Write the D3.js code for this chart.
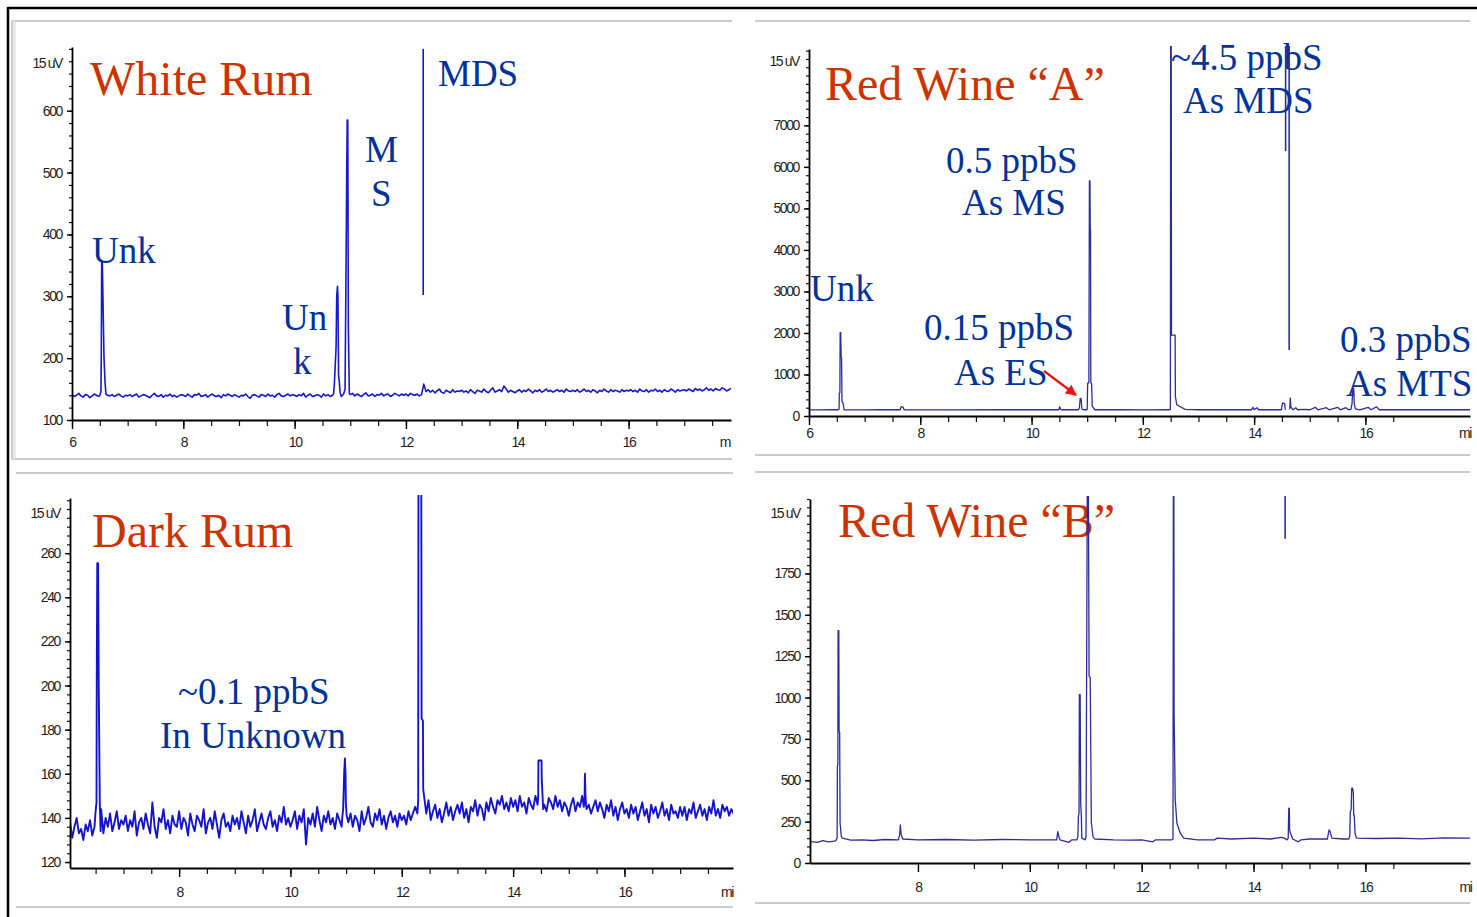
<!DOCTYPE html>
<html>
<head>
<meta charset="utf-8">
<script src="https://cdn.jsdelivr.net/npm/d3@7"></script>
<style>
  html, body { margin: 0; padding: 0; background: #fff; }
  svg { display: block; }
  .tick text, .unit, .end-label {
    font-family: "Liberation Sans", Arial, sans-serif;
    font-size: 14px; letter-spacing: -1.4px; fill: #1e1e1e;
  }
  .title { font-family: "Liberation Serif", "Times New Roman", serif; font-size: 48px; fill: #cc3300; }
  .note  { font-family: "Liberation Serif", "Times New Roman", serif; font-size: 37px; fill: #003399; }
</style>
</head>
<body>
<svg id="chart" width="1477" height="917"></svg>
<script>
// ---------------------------------------------------------------
// Sulfur chromatograms (signal in uV vs. retention time in min)
// ---------------------------------------------------------------

// Noisy detector baselines, sampled every 0.04 min
const noiseStep = 0.04;
const whiteRumNoiseStart = 6.00;
const whiteRumNoise = [
  141,138,140,143,139,137,141,140,136,139,142,140,138,141,143,137,140,139,141,138,140,142,139,137,140,
  139,141,138,140,142,137,139,141,140,138,136,140,143,139,138,141,137,140,139,142,138,140,137,139,141,
  140,138,142,139,137,141,140,143,138,139,141,137,140,142,139,138,140,136,141,139,142,140,138,141,139,
  137,140,139,142,138,135,140,141,139,137,141,140,138,142,139,140,137,141,143,139,138,140,142,139,141,
  140,138,141,139,143,137,140,142,138,139,141,140,137,142,139,141,138,140,143,139,141,138,142,140,139,
  141,143,139,142,140,138,141,144,139,140,142,138,141,140,143,139,141,142,138,140,143,141,139,142,140,
  142,139,143,141,140,142,139,141,158,146,149,145,148,144,147,150,145,143,148,146,144,149,145,147,146,
  148,145,147,144,149,146,143,148,147,145,150,146,144,148,152,145,147,149,146,155,150,145,148,146,144,
  147,149,145,148,146,150,147,144,148,146,149,145,147,150,146,148,145,147,149,146,148,145,150,147,146,
  148,146,149,145,147,150,146,148,145,149,147,144,148,146,150,147,145,149,146,148,147,145,149,146,148,
  147,149,146,148,145,150,147,146,149,145,148,147,150,146,148,145,149,147,146,150,148,145,149,147,148,
  149,147,150,148,146,151,148,150,147,149,152,148,150,147,151,149,148,152,150,147,149,151,148,150,149
];

const darkRumNoiseStart = 6.04;
const darkRumNoise = [
  138,131,136,140,133,135,130,137,134,139,132,136,135,141,144,133,140,136,142,134,138,143,135,139,137,
  141,134,139,136,143,132,138,140,135,142,137,133,147,136,131,140,138,144,135,139,133,141,137,136,143,
  135,140,138,132,142,137,134,141,139,136,144,133,138,140,135,143,137,131,139,142,136,138,134,141,137,
  140,135,143,138,133,141,136,139,144,134,138,142,137,135,140,143,136,139,134,141,138,145,137,140,136,
  139,143,135,141,138,144,128,140,137,142,136,145,139,134,141,138,143,137,140,135,142,139,136,144,140,
  138,142,136,141,139,134,143,137,140,145,138,136,142,139,144,137,141,135,140,143,138,141,136,142,139,
  141,137,143,139,142,145,140,138,141,146,142,148,139,143,146,140,144,138,142,147,141,145,139,143,146,
  142,147,140,144,138,145,143,148,141,146,144,139,147,143,149,145,142,148,146,150,144,147,143,149,145,
  148,143,150,145,147,142,149,146,144,150,147,145,151,146,143,149,147,144,150,145,148,143,147,145,141,
  146,149,143,147,145,150,148,144,146,142,145,148,143,147,144,140,146,143,148,141,145,139,144,147,142,
  144,140,146,142,145,139,143,147,141,144,138,146,142,145,140,143,147,141,144,139,146,142,143,140,145,
  141,145,139,144,142,147,140,143,146,141,144,139,145,142,148,141,144,140,146,143,145,141,144,142,146
];

// Peaks [time, signal] laid over the noisy baselines
const whiteRumPeaks = [
  [[6.50,140],[6.52,146],[6.527,210],[6.533,354],[6.545,354],[6.563,263],[6.575,200],[6.593,162],[6.61,142]],
  [[10.70,142],[10.713,157],[10.745,219],[10.756,300],[10.77,316],[10.778,300],[10.79,170],[10.80,165],[10.816,145]],
  [[10.89,145],[10.906,150],[10.93,420],[10.936,505],[10.945,585],[10.955,585],[10.965,250],[10.983,143],[11.0,141]]
];
const darkRumPeaks = [
  [[6.50,143],[6.516,147],[6.521,206],[6.53,255.5],[6.545,255.5],[6.557,198],[6.575,147],[6.59,134]],
  [[10.93,140],[10.947,144],[10.965,160],[10.978,167],[10.99,160],[10.995,147],[11.01,141]],
  [[12.28,142],[12.295,148],[12.30,300],[12.35,300],[12.356,185],[12.38,184],[12.385,153],[12.40,150]],
  [[14.44,146],[14.451,150],[14.455,166],[14.51,166],[14.515,157],[14.54,144]],
  [[15.27,145],[15.285,150],[15.29,160],[15.30,150],[15.31,146]]
];

// Wine traces [time, signal]; null marks a break in the recorded trace
const redWineATrace = [
  [6.0,150],[6.2,146],[6.4,150],[6.52,150],[6.54,160],[6.545,550],[6.555,560],[6.56,2010],[6.57,2010],
  [6.578,1430],[6.585,1400],[6.593,345],[6.615,300],[6.63,150],
  [7.0,148],[7.3,150],[7.64,150],[7.655,225],[7.69,215],[7.71,150],
  [8.5,148],[9.5,150],[10.49,150],[10.505,225],[10.52,160],[10.55,150],
  [10.84,150],[10.86,200],[10.875,425],[10.89,420],[10.905,170],[10.93,150],
  [10.99,150],[11.0,160],[11.008,790],[11.03,800],[11.04,5660],[11.05,5660],[11.055,4480],[11.06,4480],
  [11.065,800],[11.08,780],[11.09,230],[11.14,150],
  [11.6,150],[12.0,148],[12.48,150],[12.495,160],[12.50,9500],[12.51,9500],[12.515,1950],[12.58,1950],
  [12.585,470],[12.61,270],[12.76,160],
  [13.0,150],[13.5,150],[13.95,150],[13.98,210],[14.0,150],[14.05,200],[14.08,150],[14.49,150],
  [14.51,313],[14.55,300],[14.56,150],
  [14.60,null],
  [14.64,160],[14.65,434],[14.66,220],[14.70,150],[14.75,200],[14.78,150],[14.9,160],[15.0,150],
  [15.1,210],[15.15,150],[15.3,200],[15.35,150],[15.5,210],[15.55,150],[15.65,200],[15.70,150],
  [15.74,160],[15.76,300],[15.775,670],[15.79,660],[15.80,300],[15.82,170],
  [15.9,150],[16.05,210],[16.1,150],[16.2,220],[16.25,150],[17.0,150],[17.88,150]
];
const redWineBTrace = [
  [6.07,130],[6.2,125],[6.3,135],[6.4,128],[6.5,132],[6.53,135],[6.555,150],[6.56,580],[6.568,600],
  [6.572,1404],[6.585,1404],[6.59,795],[6.60,790],[6.608,240],[6.63,160],[6.65,150],
  [6.8,138],[7.0,140],[7.2,136],[7.4,142],[7.65,140],[7.675,175],[7.685,230],[7.70,170],[7.73,145],
  [8.0,140],[8.5,142],[9.0,138],[9.5,142],[10.0,140],[10.48,140],[10.50,190],[10.52,160],[10.54,140],
  [10.7,125],[10.75,140],
  [10.84,140],[10.86,160],[10.868,280],[10.88,300],[10.886,1017],[10.90,1017],[10.91,360],[10.92,300],
  [10.93,150],[10.99,140],[11.005,160],[11.03,2500],[11.045,2500],[11.06,1130],[11.08,1120],[11.10,242],
  [11.13,160],[11.16,145],
  [11.5,140],[11.8,138],[12.0,140],[12.2,128],[12.25,140],[12.54,140],[12.56,145],[12.567,2500],
  [12.575,2500],[12.58,900],[12.60,380],[12.63,240],[12.69,180],[12.75,150],
  [13.0,140],[13.3,140],[13.35,150],[13.6,145],[14.0,150],[14.3,145],[14.5,155],[14.55,150],
  [14.60,140],[14.62,150],[14.63,332],[14.64,330],[14.645,200],[14.66,180],[14.70,145],[14.8,128],
  [14.85,140],[15.0,145],
  [15.32,145],[15.35,200],[15.37,190],[15.40,150],[15.6,145],
  [15.70,145],[15.72,160],[15.73,310],[15.745,320],[15.755,452],[15.77,452],[15.785,423],[15.79,290],
  [15.80,290],[15.815,180],[15.84,150],
  [16.2,148],[16.6,150],[17.0,146],[17.4,152],[17.87,150]
];

// Off-scale peak strokes [time, lower signal, upper signal]
const whiteRumMarkers = [[12.31, 302, 700]];
const redWineAMarkers = [[14.63, 1590, 9500], [14.566, 6380, 9500]];
const redWineBMarkers = [[14.565, 1960, 2500]];

// Axis tick values
const whiteRumYTicks = [100, 200, 300, 400, 500, 600];
const redWineAYTicks = [0, 1000, 2000, 3000, 4000, 5000, 6000, 7000];
const darkRumYTicks  = [120, 140, 160, 180, 200, 220, 240, 260];
const redWineBYTicks = [0, 250, 500, 750, 1000, 1250, 1500, 1750];
const timeTicksFrom6 = [6, 8, 10, 12, 14, 16];
const timeTicksFrom8 = [8, 10, 12, 14, 16];
const unitLabel = "15 uV";

// ---------------------------------------------------------------
function buildTrace(start, step, noise, peaks) {
  const pts = noise
    .map((v, i) => [start + i * step, v])
    .filter(([t]) => !peaks.some(pk => t >= pk[0][0] && t <= pk[pk.length - 1][0]));
  peaks.forEach(pk => pts.push(...pk));
  return pts.sort((a, b) => a[0] - b[0]);
}

const panels = [
  {
    frame: { x0: 12, x1: 732, y0: 21, y1: 459, leftEdge: true },
    left: 72, right: 731, top: 47, bottom: 420,
    xDomain: [6, 17.84], yDomain: [100, 703],
    yTicks: whiteRumYTicks, yMinor: d3.range(100, 701, 20),
    xTicks: timeTicksFrom6, xMinor: d3.range(6, 17.51, 0.5),
    xPad: 8, endLabel: "m", endT: 17.73, unitY: 63,
    trace: buildTrace(whiteRumNoiseStart, noiseStep, whiteRumNoise, whiteRumPeaks),
    markers: whiteRumMarkers, color: "#1717cc", width: 1.6,
    notes: [
      { text: "White Rum", cls: "title", x: 90, y: 95 },
      { text: "MDS", cls: "note", x: 438, y: 86 },
      { text: "M", cls: "note", x: 365, y: 162 },
      { text: "S", cls: "note", x: 371, y: 206 },
      { text: "Unk", cls: "note", x: 92, y: 263 },
      { text: "Un", cls: "note", x: 282, y: 330 },
      { text: "k", cls: "note", x: 293, y: 374 }
    ]
  },
  {
    frame: { x0: 755, x1: 1470, y0: 21, y1: 455 },
    left: 809, right: 1470, top: 49, bottom: 416,
    xDomain: [6, 17.88], yDomain: [0, 8840],
    yTicks: redWineAYTicks, yMinor: d3.range(0, 8801, 200),
    xTicks: timeTicksFrom6, xMinor: d3.range(6, 16.51, 0.5),
    xPad: 3, endLabel: "mi", endT: 17.79, unitY: 61,
    trace: redWineATrace,
    markers: redWineAMarkers, color: "#2d2d9a", width: 1.3,
    notes: [
      { text: "Red Wine “A”", cls: "title", x: 825, y: 100 },
      { text: "0.5 ppbS", cls: "note", x: 946, y: 173 },
      { text: "As MS", cls: "note", x: 962, y: 215 },
      { text: "Unk", cls: "note", x: 810, y: 301 },
      { text: "0.15 ppbS", cls: "note", x: 924, y: 340 },
      { text: "As ES", cls: "note", x: 954, y: 385 },
      { text: "~4.5 ppbS", cls: "note", x: 1171, y: 70 },
      { text: "As MDS", cls: "note", x: 1183, y: 113 },
      { text: "0.3 ppbS", cls: "note", x: 1340, y: 352 },
      { text: "As MTS", cls: "note", x: 1346, y: 396 }
    ],
    arrow: { x1: 1044, y1: 371, x2: 1076, y2: 395 }
  },
  {
    frame: { x0: 16, x1: 733, y0: 473, y1: 907 },
    left: 70, right: 733, top: 498, bottom: 868,
    xDomain: [6.04, 17.95], yDomain: [117.3, 285],
    yTicks: darkRumYTicks, yMinor: d3.range(120, 285, 4),
    xTicks: timeTicksFrom8, xMinor: d3.range(6.5, 17.51, 0.5),
    xPad: 10, endLabel: "mi", endT: 17.84, unitY: 513,
    trace: buildTrace(darkRumNoiseStart, noiseStep, darkRumNoise, darkRumPeaks),
    markers: [], color: "#1414cc", width: 1.9,
    notes: [
      { text: "Dark Rum", cls: "title", x: 92, y: 547 },
      { text: "~0.1 ppbS", cls: "note", x: 178, y: 704 },
      { text: "In Unknown", cls: "note", x: 160, y: 748 }
    ]
  },
  {
    frame: { x0: 755, x1: 1470, y0: 472, y1: 903 },
    left: 810, right: 1470, top: 499, bottom: 863,
    xDomain: [6.07, 17.87], yDomain: [0, 2200],
    yTicks: redWineBYTicks, yMinor: d3.range(0, 2201, 50),
    xTicks: timeTicksFrom8, xMinor: d3.range(9, 16.51, 0.5),
    xPad: 10, endLabel: "mi", endT: 17.79, unitY: 513,
    trace: redWineBTrace,
    markers: redWineBMarkers, color: "#2d2d9a", width: 1.3,
    notes: [
      { text: "Red Wine “B”", cls: "title", x: 838, y: 537 }
    ]
  }
];

const svg = d3.select("#chart");

// outer slide frame
svg.append("line").attr("x1", 7.5).attr("x2", 1477).attr("y1", 8).attr("y2", 8)
  .attr("stroke", "#000").attr("stroke-width", 2.5);
svg.append("line").attr("x1", 8).attr("x2", 8).attr("y1", 7).attr("y2", 917)
  .attr("stroke", "#000").attr("stroke-width", 2.5);

svg.append("defs").append("marker")
  .attr("id", "arrowhead").attr("viewBox", "0 0 10 10")
  .attr("refX", 9).attr("refY", 5).attr("markerWidth", 5).attr("markerHeight", 5)
  .attr("orient", "auto")
  .append("path").attr("d", "M0,0 L10,5 L0,10 Z").attr("fill", "#ee1111");

panels.forEach((p, i) => {
  const g = svg.append("g");
  const f = p.frame;

  // light grey panel edges
  const edge = (x1, y1, x2, y2) => g.append("line")
    .attr("x1", x1).attr("y1", y1).attr("x2", x2).attr("y2", y2)
    .attr("stroke", "#cacaca").attr("stroke-width", 2);
  edge(f.x0, f.y0, f.x1, f.y0);
  edge(f.x0, f.y1, f.x1, f.y1);
  if (f.leftEdge) {
    edge(f.x0, f.y0, f.x0, f.y1);
    edge(f.x0 + 2.5, f.y0, f.x0 + 2.5, f.y1).attr("stroke", "#e2e2e2");
  }

  const x = d3.scaleLinear().domain(p.xDomain).range([p.left, p.right]);
  const y = d3.scaleLinear().domain(p.yDomain).range([p.bottom, p.top]);

  // y axis: minor then major ticks
  g.append("g").attr("transform", `translate(${p.left},0)`)
    .call(d3.axisLeft(y).tickValues(p.yMinor).tickSize(3).tickFormat(""))
    .call(a => a.select(".domain").remove())
    .selectAll("line").attr("stroke", "#111").attr("stroke-width", 1.2);
  g.append("g").attr("transform", `translate(${p.left},0)`)
    .call(d3.axisLeft(y).tickValues(p.yTicks).tickSize(5).tickPadding(5).tickSizeOuter(0)
      .tickFormat(d3.format("d")))
    .call(a => a.select(".domain").attr("stroke", "#000").attr("stroke-width", 1.8))
    .call(a => a.selectAll(".tick line").attr("stroke", "#000").attr("stroke-width", 1.4));

  g.append("text").attr("class", "unit")
    .attr("x", p.left - 10).attr("y", p.unitY).attr("dy", "0.35em")
    .attr("text-anchor", "end").text(unitLabel);

  // x axis
  g.append("g").attr("transform", `translate(0,${p.bottom})`)
    .call(d3.axisBottom(x).tickValues(p.xMinor).tickSize(6).tickFormat(""))
    .call(a => a.select(".domain").remove())
    .selectAll("line").attr("stroke", "#111").attr("stroke-width", 1.2);
  g.append("g").attr("transform", `translate(0,${p.bottom})`)
    .call(d3.axisBottom(x).tickValues(p.xTicks).tickSize(9).tickPadding(p.xPad).tickSizeOuter(0)
      .tickFormat(d3.format("d")))
    .call(a => a.select(".domain").attr("stroke", "#000").attr("stroke-width", 1.8))
    .call(a => a.selectAll(".tick line").attr("stroke", "#000").attr("stroke-width", 1.4));
  g.append("text").attr("class", "end-label")
    .attr("x", x(p.endT)).attr("y", p.bottom + 9 + p.xPad).attr("dy", "0.71em")
    .attr("text-anchor", "middle").text(p.endLabel);

  // annotations
  p.notes.forEach(n => g.append("text").attr("class", n.cls)
    .attr("x", n.x).attr("y", n.y).text(n.text));
  if (p.arrow) {
    g.append("line").attr("x1", p.arrow.x1).attr("y1", p.arrow.y1)
      .attr("x2", p.arrow.x2).attr("y2", p.arrow.y2)
      .attr("stroke", "#ee1111").attr("stroke-width", 2.2)
      .attr("marker-end", "url(#arrowhead)");
  }

  // chromatogram trace
  const clipId = `plot-clip-${i}`;
  svg.select("defs").append("clipPath").attr("id", clipId)
    .append("rect").attr("x", p.left + 1).attr("y", p.top - 3)
    .attr("width", p.right - p.left - 1).attr("height", p.bottom - p.top + 2);

  const plot = g.append("g").attr("clip-path", `url(#${clipId})`);
  const line = d3.line().defined(d => d[1] != null)
    .x(d => x(d[0])).y(d => y(d[1]));
  plot.append("path").datum(p.trace)
    .attr("d", line).attr("fill", "none")
    .attr("stroke", p.color).attr("stroke-width", p.width)
    .attr("stroke-linejoin", "round");
  plot.selectAll("line.marker").data(p.markers).join("line")
    .attr("class", "marker")
    .attr("x1", d => x(d[0])).attr("x2", d => x(d[0]))
    .attr("y1", d => y(d[1])).attr("y2", d => y(d[2]))
    .attr("stroke", p.color).attr("stroke-width", 1.6);
});
</script>
</body>
</html>
